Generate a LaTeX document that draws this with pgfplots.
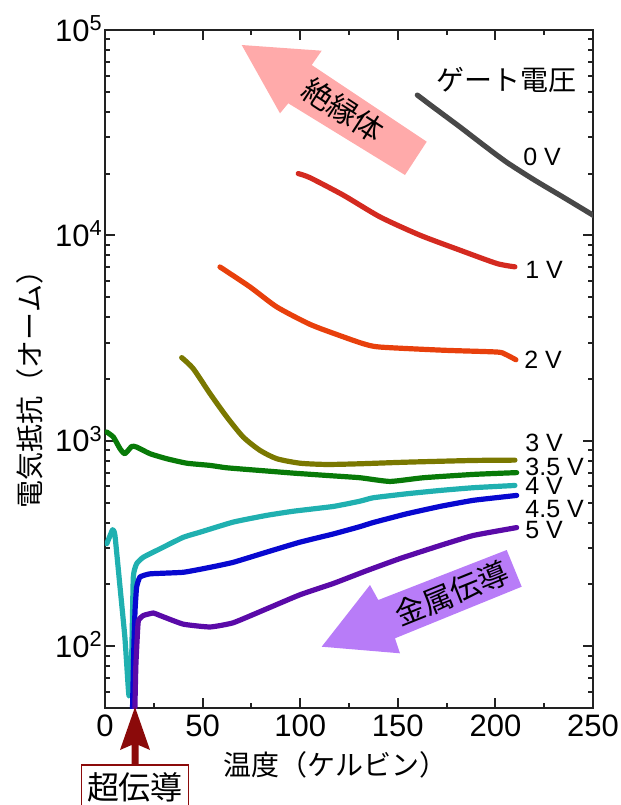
\documentclass[border=0pt]{standalone}
\usepackage{fontspec}
\setmainfont{Liberation Sans}
\newfontfamily\jp{Noto Sans CJK JP}
\usepackage{pgfplots}
\pgfplotsset{compat=1.18}

\definecolor{axisgray}{HTML}{222222}
\definecolor{cZero}{HTML}{484848}
\definecolor{cOne}{HTML}{D42A20}
\definecolor{cTwo}{HTML}{E8400C}
\definecolor{cThree}{HTML}{7A7800}
\definecolor{cThreeH}{HTML}{087A08}
\definecolor{cFour}{HTML}{20B0B0}
\definecolor{cFourH}{HTML}{0808D0}
\definecolor{cFive}{HTML}{5A0AA8}
\definecolor{insul}{HTML}{FFAAAA}
\definecolor{metal}{HTML}{B87CF8}
\definecolor{supra}{HTML}{8B0A0A}

\begin{document}
\begin{tikzpicture}
\useasboundingbox (0,0) rectangle (310.5pt,-402.5pt);
\begin{axis}[
    at={(52.5pt,-354pt)}, anchor=south west,
    scale only axis, width=244pt, height=339pt,
    ymode=log,
    xmin=0, xmax=250, ymin=50, ymax=100000,
    xtick={0,50,...,250}, minor x tick num=1,
    ytick={100,1000,10000,100000},
    yticklabels={10\textsuperscript{2},10\textsuperscript{3},10\textsuperscript{4},10\textsuperscript{5}},
    minor ytick={60,70,80,90,200,300,400,500,600,700,800,900,2000,3000,4000,5000,6000,7000,8000,9000,20000,30000,40000,50000,60000,70000,80000,90000},
    tick align=inside,
    major tick length=5pt, minor tick length=2.5pt,
    every tick/.style={line width=1pt, axisgray},
    axis line style={line width=1pt, axisgray},
    tick label style={font=\fontsize{15.5}{18}\selectfont},
    yticklabel style={anchor=base east, inner xsep=1pt, yshift=-5.5pt},
    /pgf/number format/assume math mode=true,
    xlabel={\jp 温度（ケルビン）},
    ylabel={\jp 電気抵抗（オーム）},
    label style={font=\fontsize{14}{16}\selectfont},
    xlabel style={at={(axis description cs:0.473,-0.084)}, anchor=center},
    ylabel style={at={(axis description cs:-0.154,0.48)}, anchor=center},
    every axis plot/.append style={line width=2.6pt, line join=round, line cap=round, no marks, smooth, tension=0.4},
]
% 0 V
\addplot[cZero] coordinates {(160,48200) (170,40900) (181.9,33700) (194,27500) (205.8,22700) (220,18600) (235,15300) (250,12550) (253,12100)};
% 1 V
\addplot[cOne] coordinates {(99,20000) (105,19100) (122.1,15700) (140.9,12300) (161.4,10020) (181.9,8470) (200.7,7300) (210,7030)};
% 2 V
\addplot[cTwo] coordinates {(58.9,7020) (74.3,5610) (88,4485) (105,3690) (120,3260) (132.3,2970) (140.9,2860) (173.3,2760) (200.7,2705) (205,2640) (210.5,2480)};
% 3 V
\addplot[cThree] coordinates {(39.3,2541) (45.2,2245) (53.8,1697) (62.4,1306) (70.8,1043) (79.4,898) (88,818) (99.9,778) (113.6,767) (130.6,773) (154.6,787) (188.7,802) (210,805)};
% 3.5 V
\addplot[cThreeH, tension=0.3] coordinates {(0.9,1103) (4.3,1043) (7.7,915) (10.2,865) (13.7,939) (16.2,932) (23.1,865) (31.6,818) (41.9,778) (53.8,759) (62.3,739) (79.4,717) (96.5,696) (113.6,678) (130.6,661) (146,634) (163.1,661) (188.7,686) (210.9,700)};
% 4 V
\addplot[cFour, tension=0.25] coordinates {(0.9,315) (3.9,369) (5.1,346) (7.7,194) (10.2,110) (11.9,63) (12.4,57.4) (13.7,91.7) (14.5,217) (16.2,252) (19.6,271) (28.2,298) (40.1,339) (48.7,359) (65.7,402) (82.6,433) (96.5,454) (117,479) (130.6,508) (137.4,528) (154.5,552) (171.6,573) (188.7,591) (210,606)};
% 4.5 V
\addplot[cFourH, tension=0.25] coordinates {(14.0,45) (14.8,100) (15.4,150) (16.2,194) (17.9,217) (23.1,225) (40.1,229) (53.8,242) (65.7,256) (82.8,287) (99.9,321) (117,352) (130.6,382) (137.4,400) (154.5,441) (171.6,479) (188.7,513) (210.9,542)};
% 5 V
\addplot[cFive, tension=0.25] coordinates {(15.2,45) (15.8,80) (16.5,110) (17.1,133) (19.6,141) (24.7,145) (28.2,141) (40.1,128) (53.8,124) (65.7,130) (82.8,152) (99.9,178) (117,202) (134,233) (151.1,267) (171.6,309) (188.7,346) (210.9,378)};
\end{axis}

% annotations, in pixel units of the reference
\begin{scope}[x=0.5pt, y=-0.5pt]
  % insulator arrow
  \fill[insul] (241.7,45) -- (321.7,50.7) -- (311.7,65) -- (426.7,141.7) -- (405,175) -- (288.3,103.3) -- (280,113.3) -- cycle;
  \node[rotate=-33, font=\fontsize{15}{18}\selectfont\jp] at (343.3,110) {絶縁体};
  % metallic arrow
  \fill[metal] (321.7,646.7) -- (370,585) -- (378.3,600) -- (506.7,550) -- (521.7,586.7) -- (395,638.3) -- (400,653.3) -- cycle;
  \node[rotate=22, font=\fontsize{15}{18}\selectfont\jp] at (451.7,593.3) {金属伝導};
  % superconducting arrow and box
  \fill[supra] (120,750) -- (135,707) -- (150,750) -- (138.5,745) -- (138.5,766) -- (131.5,766) -- (131.5,745) -- cycle;
  \draw[supra, line width=0.75pt, fill=white] (81.7,765) rectangle (188.3,815);
  \node[font=\fontsize{16}{18}\selectfont\jp] at (135,787) {超伝導};
  % gate voltage labels
  \node[font=\fontsize{14}{16}\selectfont\jp] at (506.5,80) {ゲート電圧};
  \begin{scope}[every node/.style={anchor=west, inner sep=0pt, font=\fontsize{12.5}{14}\selectfont}]
    \node at (523,157) {0 V};
    \node at (525,270) {1 V};
    \node at (524,360) {2 V};
    \node at (525,443) {3 V};
    \node at (525,467) {3.5 V};
    \node at (525,486) {4 V};
    \node at (525,509) {4.5 V};
    \node at (525,530) {5 V};
  \end{scope}
\end{scope}
\end{tikzpicture}
\end{document}
